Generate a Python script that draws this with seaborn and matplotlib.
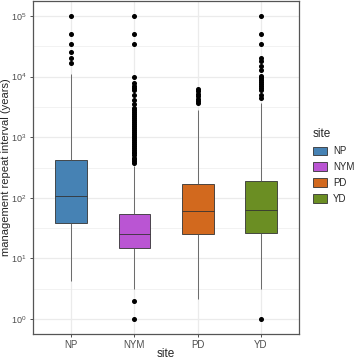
import matplotlib
matplotlib.use("Agg")
import matplotlib.pyplot as plt
import numpy as np
import pandas as pd
import seaborn as sns
from matplotlib.patches import Patch
from matplotlib.ticker import FixedLocator, NullFormatter

# five-number summaries (years, log scale)
sites = ["NP", "NYM", "PD", "YD"]
colors = ["#4682B4", "#BA55D3", "#D2691E", "#6B8E23"]
whisker_low = [4.2, 3.1, 2.1, 3.1]
q1 = [39, 15, 25, 26]
median = [107, 25.6, 61, 63]
q3 = [427, 54, 170, 190]
whisker_high = [11000, 340, 2800, 3700]

outliers_np = [16600, 20500, 25600, 34000, 50000, 100000]
outliers_nym = [1, 2,
                380, 400, 430, 460, 500, 540, 580, 620, 670, 720, 780, 840,
                900, 970, 1050, 1130, 1220, 1310, 1410, 1520, 1640, 1770,
                1900, 2050, 2210, 2380, 2560, 2760, 2980, 3500, 4100, 5000,
                6000, 6500, 7000, 7800, 10000, 34000, 50000, 100000]
outliers_pd = [3700, 4000, 4300, 4700, 5200, 5800, 6200]
outliers_yd = [1, 4350, 5000, 6000, 6500, 7000, 7600, 8200, 8800, 9500,
               10200, 12600, 15200, 17800, 20500, 34000, 50000, 100000]
outliers = [outliers_np, outliers_nym, outliers_pd, outliers_yd]

# long table whose quartiles/whiskers reproduce the summaries
rows = []
for i, site in enumerate(sites):
    vals = ([whisker_low[i]] + [q1[i]] * 200 + [median[i]] * 200
            + [q3[i]] * 200 + [whisker_high[i]] + outliers[i])
    rows += [(site, v) for v in vals]
df = pd.DataFrame(rows, columns=["site", "value"])

sns.set_theme(style="white")
plt.rcParams["font.family"] = ["Liberation Sans", "DejaVu Sans"]

fig = plt.figure(figsize=(3.57, 3.61), dpi=100)
ax = fig.add_axes([33 / 357, 27 / 361, 266 / 357, 333 / 361])

grid_c = "#EBEBEB"
ax.set_axisbelow(True)

sns.boxplot(
    data=df, x="site", y="value", hue="site", palette=colors,
    order=sites, hue_order=sites, log_scale=True, width=0.5, saturation=1,
    linecolor="#333333", linewidth=0.6, fliersize=2.6, legend=False,
    showcaps=False,
    flierprops=dict(marker="o", markerfacecolor="black",
                    markeredgecolor="black"),
    whiskerprops=dict(color="#555555"),
    ax=ax,
)

ax.set_xlim(-0.6, 3.6)
ax.set_ylim(10 ** -0.247, 10 ** 5.247)
ax.yaxis.set_major_locator(FixedLocator([10.0 ** k for k in range(0, 6)]))
ax.yaxis.set_minor_locator(FixedLocator([10.0 ** (k + 0.5) for k in range(-1, 6)]))
ax.yaxis.set_minor_formatter(NullFormatter())
ax.grid(True, which="major", axis="both", color=grid_c, linewidth=0.9)
ax.grid(True, which="minor", axis="y", color=grid_c, linewidth=0.45)
ax.tick_params(axis="both", which="major", length=2.5, width=0.6,
               color="#333333", labelcolor="#4D4D4D", labelsize=7, pad=2,
               left=True, bottom=True)
ax.tick_params(axis="y", which="major", labelsize=6.5)
ax.tick_params(axis="y", which="minor", length=0)
for sp in ax.spines.values():
    sp.set_color("#555555")
    sp.set_linewidth(0.9)

ax.set_xlabel("site", fontsize=8.5)
ax.set_ylabel("management repeat interval (years)", fontsize=8)
ax.xaxis.set_label_coords(0.5, -14 / 333)
ax.yaxis.set_label_coords(-22 / 266, 0.5)

handles = [Patch(facecolor=c, edgecolor="#333333", linewidth=0.6, label=s)
           for s, c in zip(sites, colors)]
leg = fig.legend(handles=handles, title="site", loc="upper left",
                 bbox_to_anchor=(0.865, 0.655), frameon=False, fontsize=7,
                 title_fontsize=8.5, handlelength=1.5, handleheight=1.0,
                 handletextpad=0.6, labelspacing=0.6, borderaxespad=0)
leg._legend_box.align = "left"

fig.savefig("out.png", dpi=100)
